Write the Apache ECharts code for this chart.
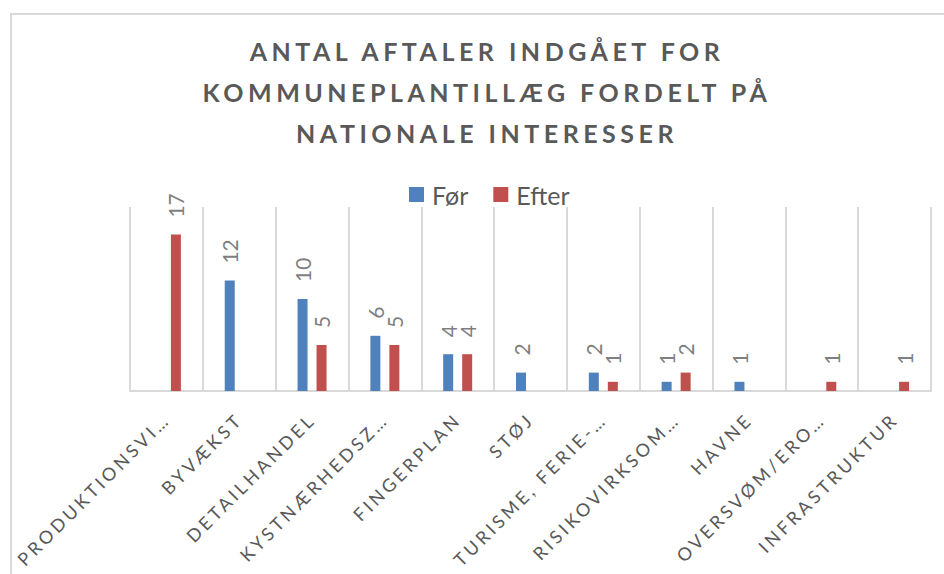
<!DOCTYPE html>
<html>
<head>
<meta charset="utf-8">
<script src="https://cdn.jsdelivr.net/npm/echarts@6/dist/echarts.min.js"></script>
<style>
  html, body { margin: 0; padding: 0; background: #fff; }
  #chart { width: 944px; height: 574px; }
  /* spaced caps like the original office chart (title + category labels) */
  #chart text[style*="spaced-title"] { letter-spacing: 4.5px; }
  #chart text[style*="spaced-axis"] { letter-spacing: 3.4px; }
</style>
</head>
<body>
<div id="chart"></div>
<script>
// kategorier (nationale interesser) som vist på aksen
const categories = [
  'PRODUKTIONSVI…', 'BYVÆKST', 'DETAILHANDEL', 'KYSTNÆRHEDSZ…', 'FINGERPLAN',
  'STØJ', 'TURISME, FERIE-…', 'RISIKOVIRKSOM…', 'HAVNE', 'OVERSVØM/ERO…', 'INFRASTRUKTUR',
];
const foer  = [null, 12, 10, 6, 4, 2, 2, 1, 1, null, null];
const efter = [17, null, 5, 5, 4, null, 1, 2, null, 1, 1];

const chart = echarts.init(document.getElementById('chart'), null, { renderer: 'svg' });

const barLabel = {
  show: true,
  position: 'top',
  rotate: 90,
  align: 'left',
  verticalAlign: 'middle',
  distance: 17,
  fontFamily: 'Lato',
  fontSize: 21,
  color: '#7f7f7f',
};

chart.setOption({
  animation: false,
  backgroundColor: '#fff',
  title: {
    text: 'ANTAL AFTALER INDGÅET FOR\nKOMMUNEPLANTILLÆG FORDELT PÅ\nNATIONALE INTERESSER',
    left: 482,
    top: 25,
    textAlign: 'center',
    textStyle: {
      fontFamily: 'Lato, spaced-title',
      fontWeight: 'bold',
      fontSize: 25,
      lineHeight: 41,
      color: '#595959',
    },
  },
  legend: {
    left: 409,
    top: 182,
    padding: 0,
    itemWidth: 15,
    itemHeight: 15,
    itemGap: 25,
    icon: 'rect',
    textStyle: { fontFamily: 'Lato', fontSize: 25, color: '#595959', padding: [0, 0, 0, 3] },
    data: ['Før', 'Efter'],
  },
  graphic: [{
    type: 'rect',
    shape: { x: 11, y: 14, width: 2000, height: 2000 },
    style: { fill: 'none', stroke: '#d9d9d9', lineWidth: 2 },
    silent: true,
  }],
  grid: { left: 130, right: 13, top: 207, bottom: 183 },
  xAxis: {
    type: 'category',
    data: categories,
    axisLine: { lineStyle: { color: '#d9d9d9', width: 2 } },
    axisTick: { show: false },
    splitLine: { show: true, lineStyle: { color: '#d9d9d9', width: 2 } },
    axisLabel: {
      interval: 0,
      rotate: 45,
      margin: 25,
      fontFamily: 'Lato, spaced-axis',
      fontSize: 18,
      color: '#595959',
    },
  },
  yAxis: {
    type: 'value',
    min: 0,
    max: 20,
    show: false,
  },
  series: [
    {
      name: 'Før',
      type: 'bar',
      data: foer,
      barWidth: 10,
      barGap: '90%',
      itemStyle: { color: '#4f81bd' },
      label: barLabel,
    },
    {
      name: 'Efter',
      type: 'bar',
      data: efter,
      barWidth: 10,
      barGap: '90%',
      itemStyle: { color: '#c0504d' },
      label: barLabel,
    },
  ],
});
</script>
</body>
</html>
